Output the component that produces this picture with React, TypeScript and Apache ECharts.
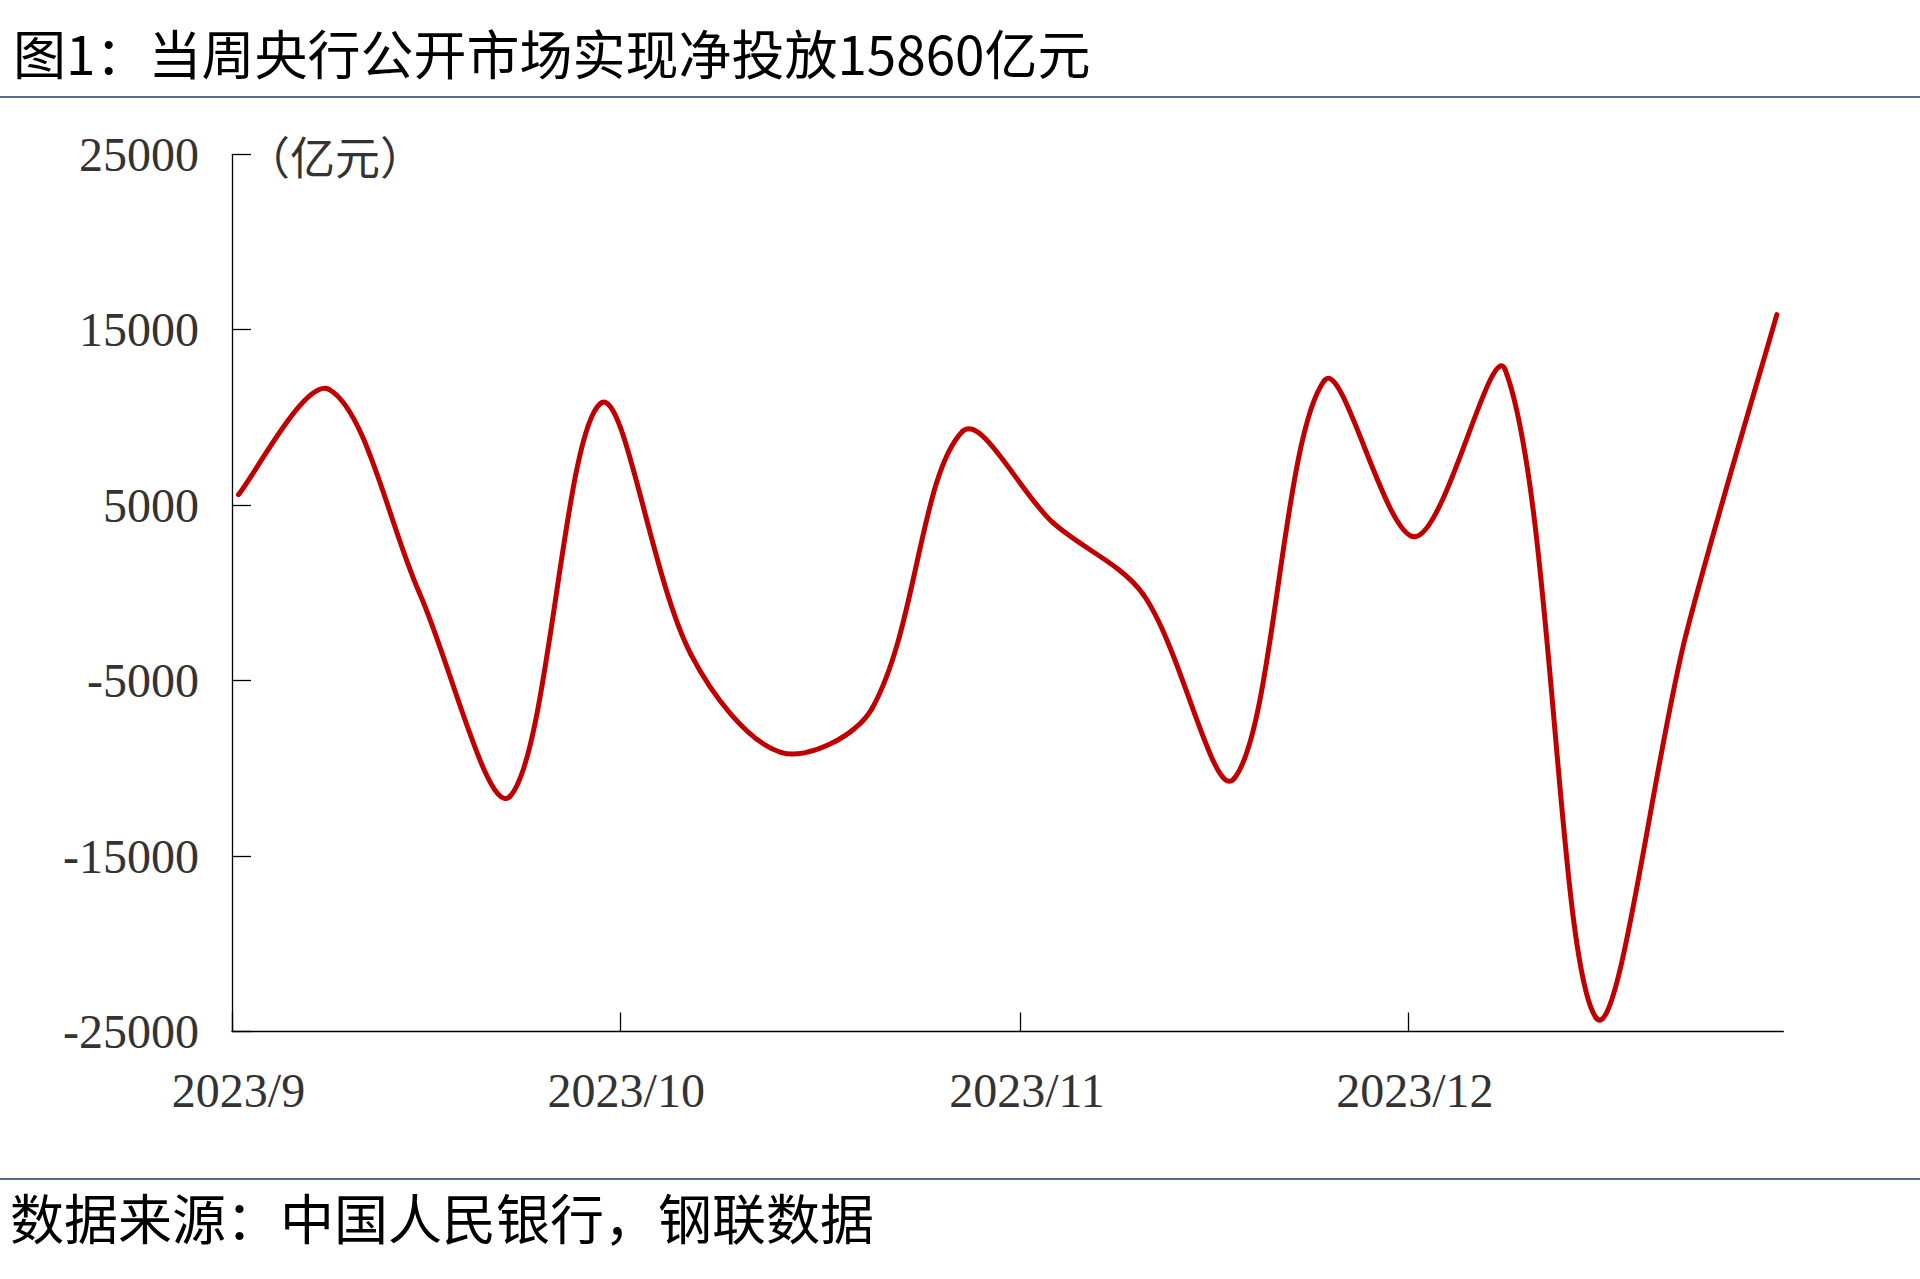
import React, { useEffect, useRef } from "react";
import * as echarts from "echarts";

const TITLE = "图1：当周央行公开市场实现净投放15860亿元";
const SOURCE = "数据来源：中国人民银行，钢联数据";
const UNIT = "（亿元）";

// weekly (Friday) observations
const weekDates = [
  "2023-09-01", "2023-09-08", "2023-09-15", "2023-09-22", "2023-09-29",
  "2023-10-06", "2023-10-13", "2023-10-20", "2023-10-27",
  "2023-11-03", "2023-11-10", "2023-11-17", "2023-11-24",
  "2023-12-01", "2023-12-08", "2023-12-15", "2023-12-22", "2023-12-29",
];
// 当周公开市场净投放（亿元）
const netInjection = [
  5600, 11600, 0, -11600, 10800,
  -3500, -9100, -6600, 9200,
  4000, -100, -10600, 12100,
  3200, 12700, -24200, -2300, 15860,
];

// axis range: 2023-09-01 00:00 .. 2023-12-30 00:00, half-day slots
const AXIS_START = [2023, 8, 1];
const AXIS_END = [2023, 11, 30];
const Y_MIN = -25000;
const Y_MAX = 25000;
const Y_STEP = 10000;

const pad = (n: number) => (n < 10 ? "0" + n : "" + n);

function buildHalfDaySlots(): string[] {
  const out: string[] = [];
  const start = Date.UTC(AXIS_START[0], AXIS_START[1], AXIS_START[2]);
  const end = Date.UTC(AXIS_END[0], AXIS_END[1], AXIS_END[2]);
  for (let t = start; t <= end; t += 12 * 3600 * 1000) {
    const d = new Date(t);
    out.push(
      `${d.getUTCFullYear()}-${pad(d.getUTCMonth() + 1)}-${pad(d.getUTCDate())} ${pad(d.getUTCHours())}`
    );
  }
  return out;
}

export default function App() {
  const ref = useRef<HTMLDivElement>(null);

  useEffect(() => {
    if (!ref.current) return;
    const chart = echarts.init(ref.current, undefined, { renderer: "svg" });
    const slots = buildHalfDaySlots();
    // [category index of the Friday noon slot, value]
    const points = weekDates.map((d, i) => [slots.indexOf(`${d} 12`), netInjection[i]]);
    const n = points.length;

    const isMonthStartNoon = (_i: number, v: string) => v.endsWith("-01 12");
    const isMonthStartBoundary = (_i: number, v: string) => v.endsWith("-01 00");

    const serif = '"Liberation Serif", "Times New Roman", serif';
    const cjk = '"Noto Sans CJK SC", sans-serif';
    const T = 1 / 3;

    // spreadsheet-style smoothed segment between point i and i+1
    const renderItem = (params: any, api: any) => {
      const i = params.dataIndex;
      if (i >= n - 1) return { type: "group", children: [] };
      const c = (k: number) => api.coord(points[Math.max(0, Math.min(n - 1, k))]);
      const p0 = c(i - 1);
      const p1 = c(i);
      const p2 = c(i + 1);
      const p3 = c(i + 2);
      const dist = (a: number[], b: number[]) => Math.hypot(b[0] - a[0], b[1] - a[1]);
      const d01 = dist(p0, p1);
      const d12 = dist(p1, p2);
      const d23 = dist(p2, p3);
      const r1 = d01 + d12 > 0 ? d12 / (d01 + d12) : 0.5;
      const r2 = d12 + d23 > 0 ? d12 / (d12 + d23) : 0.5;
      const f1 = i === 0 ? 0.5 : r1;
      const f2 = i + 1 === n - 1 ? 0.5 : r2;
      const h1x = (p2[0] - p0[0]) * T * f1;
      const h1y = (p2[1] - p0[1]) * T * f1;
      const h2x = (p3[0] - p1[0]) * T * f2;
      const h2y = (p3[1] - p1[1]) * T * f2;
      return {
        type: "bezierCurve",
        shape: {
          x1: p1[0],
          y1: p1[1],
          x2: p2[0],
          y2: p2[1],
          cpx1: p1[0] + h1x,
          cpy1: p1[1] + h1y,
          cpx2: p2[0] - h2x,
          cpy2: p2[1] - h2y,
        },
        style: { stroke: "#C00000", lineWidth: 5, fill: "none", lineCap: "round" },
      };
    };

    chart.setOption({
      animation: false,
      backgroundColor: "#ffffff",
      grid: {
        left: 232,
        right: 136.7,
        top: 154.3,
        bottom: 247.5,
        containLabel: false,
        outerBoundsMode: "none",
      },
      xAxis: {
        type: "category",
        data: slots,
        boundaryGap: false,
        axisLine: { show: true, onZero: false, lineStyle: { color: "#000", width: 1.3 } },
        axisTick: {
          show: true,
          inside: true,
          length: 19,
          interval: isMonthStartBoundary,
          lineStyle: { color: "#000", width: 1.3 },
        },
        axisLabel: {
          interval: isMonthStartNoon,
          formatter: (v: string) => {
            const [y, m] = v.split("-");
            return `${y}/${Number(m)}`;
          },
          fontFamily: serif,
          fontSize: 48,
          color: "#333333",
          margin: 35,
        },
        splitLine: { show: false },
      },
      yAxis: {
        type: "value",
        min: Y_MIN,
        max: Y_MAX,
        interval: Y_STEP,
        axisLine: { show: true, lineStyle: { color: "#000", width: 1.3 } },
        axisTick: { show: true, inside: true, length: 19, lineStyle: { color: "#000", width: 1.3 } },
        axisLabel: {
          formatter: (v: number) => String(v),
          fontFamily: serif,
          fontSize: 48,
          color: "#333333",
          margin: 33,
        },
        splitLine: { show: false },
      },
      series: [
        {
          type: "custom",
          data: points,
          encode: { x: 0, y: 1 },
          renderItem,
          z: 3,
        },
      ],
      graphic: [
        {
          type: "text",
          x: 13,
          y: 52,
          style: {
            text: TITLE,
            font: `53px ${cjk}`,
            fill: "#000",
            textVerticalAlign: "middle",
          },
        },
        {
          type: "line",
          shape: { x1: 0, y1: 97, x2: 1920, y2: 97 },
          style: { stroke: "#1f3864", lineWidth: 1.5 },
        },
        {
          type: "text",
          x: 245,
          y: 155,
          style: {
            text: UNIT,
            font: `45px ${cjk}`,
            fill: "#333333",
            textVerticalAlign: "middle",
          },
        },
        {
          type: "line",
          shape: { x1: 0, y1: 1179, x2: 1920, y2: 1179 },
          style: { stroke: "#1f3864", lineWidth: 1.5 },
        },
        {
          type: "text",
          x: 10,
          y: 1216,
          style: {
            text: SOURCE,
            font: `54px ${cjk}`,
            fill: "#000",
            textVerticalAlign: "middle",
          },
        },
      ],
    });

    return () => chart.dispose();
  }, []);

  return (
    <div
      ref={ref}
      style={{ position: "fixed", left: 0, top: 0, width: 1920, height: 1279, background: "#fff" }}
    />
  );
}
